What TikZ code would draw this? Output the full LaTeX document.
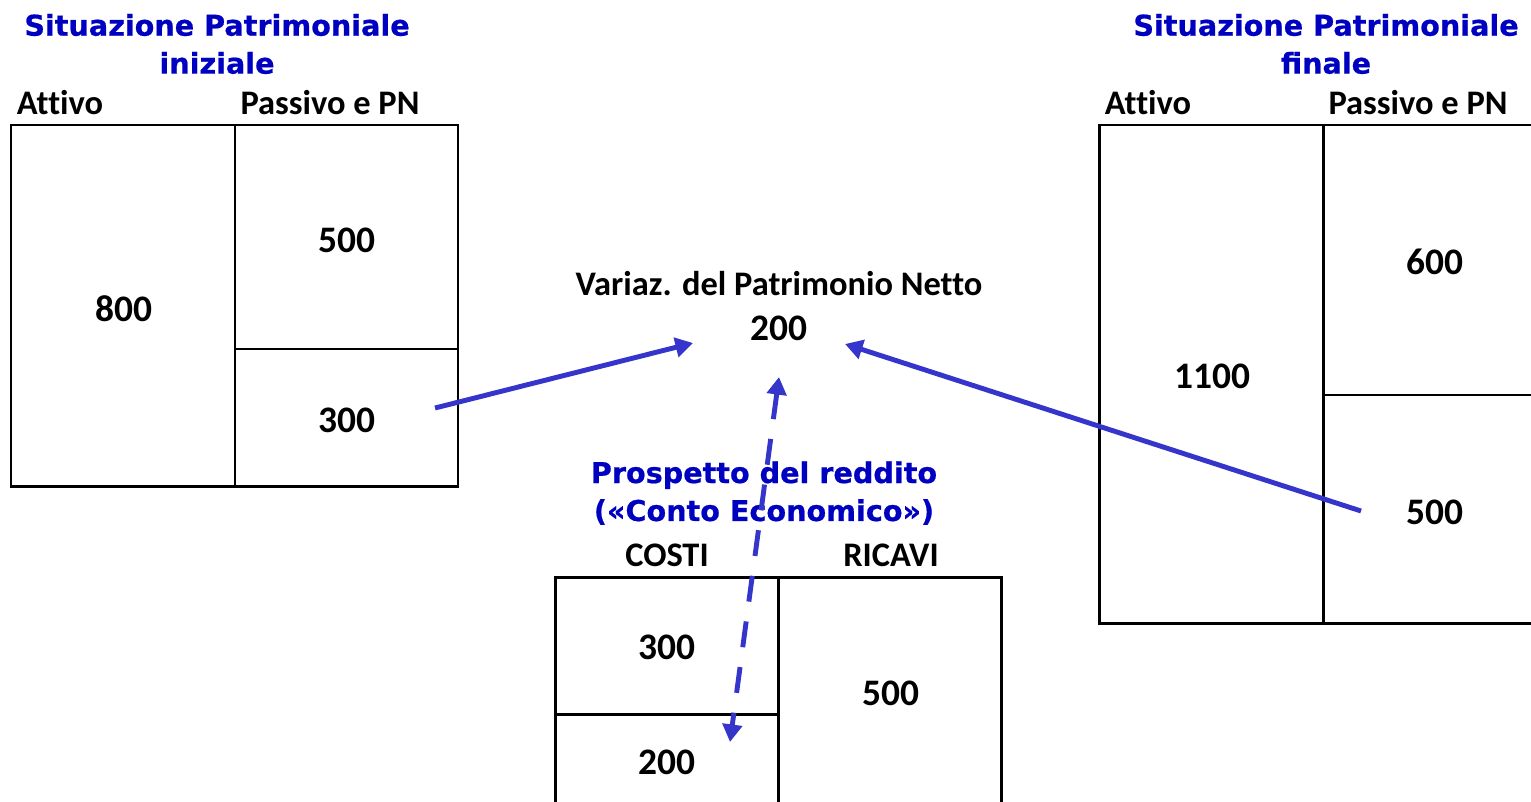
\documentclass[tikz,border=0pt]{standalone}
\usepackage{fontspec}
\setmainfont{Carlito}[Ligatures=NoCommon]
\newfontfamily\titfont{DejaVu Sans}[BoldFeatures={FakeBold=0.6}]
\usetikzlibrary{arrows.meta}

\definecolor{titblu}{RGB}{0,0,192}
\definecolor{frecblu}{RGB}{53,53,204}

\tikzset{
  conto/.style={line width=1.7pt},
  titolo/.style={font=\titfont\bfseries\fontsize{16.3}{21.6}\selectfont, text=titblu, align=center},
  voce/.style={font=\bfseries\fontsize{19.6}{22}\selectfont},
  cifra/.style={font=\bfseries\fontsize{21.3}{24}\selectfont},
  freccia/.style={frecblu, line width=2.8pt, -{Triangle[length=10pt,width=11pt]}},
}

\begin{document}
\begin{tikzpicture}[x=0.02cm,y=-0.02cm]
        \clip (0,0) rectangle (1531,801);

        \draw[conto] (11,125) rectangle (458,486);
        \draw[conto] (235,125) -- (235,486);
        \draw[conto] (235,349) -- (458,349);

        \draw[conto] (1099,125) rectangle (1547,623);
        \draw[conto] (1323,125) -- (1323,623);
        \draw[conto] (1323,395) -- (1547,395);

        \draw[conto] (555,577) rectangle (1001,810);
        \draw[conto] (778,577) -- (778,810);
        \draw[conto] (555,714) -- (778,714);

        \node[titolo] (titini) at (217,44) {Situazione Patrimoniale\\iniziale};
        \node[voce] (attini) at (60,103) {Attivo};
        \node[voce] (pasini) at (330,103) {Passivo e PN};
        \node[cifra] (att800) at (124,309) {800};
        \node[cifra] (pas500) at (347,240) {500};
        \node[cifra] (pn300) at (347,420) {300};

        \node[titolo] (titfin) at (1326,44) {Situazione Patrimoniale\\finale};
        \node[voce] (attfin) at (1148,103) {Attivo};
        \node[voce] (pasfin) at (1418,103) {Passivo e PN};
        \node[cifra] (att1100) at (1212,376) {1100};
        \node[cifra] (pas600) at (1435,262) {600};
        \node[cifra] (pn500) at (1435,512) {500};

        \node[voce] (varpn) at (779,284) {Variaz. del Patrimonio Netto};
        \node[cifra] (var200) at (779,328) {200};

        \node[titolo] (titce) at (764,493) {Prospetto del reddito\\(«Conto Economico»)};
        \node[voce] (costi) at (667,555) {COSTI};
        \node[voce] (ricavi) at (891,555) {RICAVI};
        \node[cifra] (cos300) at (667,647) {300};
        \node[cifra] (utile200) at (667,762) {200};
        \node[cifra] (ric500) at (891,693) {500};

        \coordinate (dapn300) at (435,408);
        \coordinate (var200sx) at (693,343);
        \coordinate (dapn500) at (1361,511);
        \coordinate (var200dx) at (845,344);
        \coordinate (var200giu) at (779,377);
        \coordinate (utile200su) at (730,742);

        \draw[freccia] (dapn300) -- (var200sx);
        \draw[freccia] (dapn500) -- (var200dx);
        \draw[freccia, {Triangle[length=10pt,width=11pt]}-{Triangle[length=10pt,width=11pt]}, dash pattern=on 14.8pt off 11.4pt] (var200giu) -- (utile200su);

    \end{tikzpicture}
\end{document}
